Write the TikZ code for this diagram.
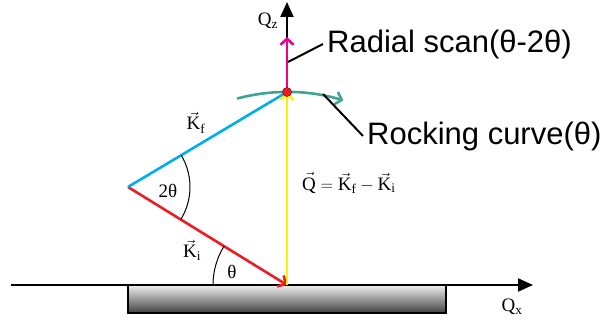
\documentclass[tikz,border=0pt]{standalone}
\usepackage{amsmath}
\usepackage{fontspec}
\setmainfont{Liberation Serif}
\newfontfamily\arialf{Liberation Sans}
\usetikzlibrary{arrows.meta,calc}
\definecolor{kic}{HTML}{ED1C24}
\definecolor{kfc}{HTML}{00AEEF}
\definecolor{qc}{HTML}{FFF200}
\definecolor{radc}{HTML}{EC008C}
\definecolor{rocc}{HTML}{3FA293}
\tikzset{
  wv/.style={line width=2.6pt,-{Straight Barb[length=6pt,width=13pt]}},
  ax/.style={line width=2pt,-{Triangle[length=15pt,width=13pt]}},
  ptr/.style={line width=2pt},
  ang/.style={line width=1pt},
  lbl/.style={font=\fontsize{19}{22}\selectfont,inner sep=1pt},
  bigl/.style={font=\arialf\fontsize{31}{36}\selectfont,inner sep=4pt,anchor=west},
  sample/.style={draw,line width=2.5pt,top color=black!6,bottom color=black!75,minimum width=318pt,minimum height=28pt,inner sep=0pt},
  dot/.style={circle,fill=kic,draw=kic!60!black,line width=0.6pt,minimum size=9pt,inner sep=0pt}
}
\begin{document}
\begin{tikzpicture}[x=1pt,y=1pt]
\useasboundingbox (0,0) rectangle (611,322);
\coordinate (O) at (287,37);
\coordinate (S) at (128,135);
\coordinate (P) at (287,230);
\coordinate (xs) at (11,37);
\coordinate (xe) at (533,37);
\coordinate (zt) at (287,320);
\coordinate (zr) at (287,285);
\coordinate (rs) at (288,260);
\coordinate (rc) at (323,228);
\node[sample] (smp) at (287,23) {};
\draw[ax] (xs) -- (xe);
\draw[ax] (O) -- (zt);
\draw[wv,kic] (S) -- (O);
\draw[line width=2.6pt,kfc] (S) -- (P);
\draw[wv,qc] (O) -- (P);
\draw[wv,radc] (P) -- (zr);
\draw[wv,rocc] ([shift={(105:193)}]O) arc[start angle=105,end angle=73,radius=193];
\node[dot] (pk) at (P) {};
\draw[ang] ([shift={(180:74)}]O) arc[start angle=180,end angle=148.35,radius=74];
\draw[ang] ([shift={(30.86:62)}]S) arc[start angle=30.86,end angle=-31.65,radius=62];
\node[bigl] (rad) at (323,278) {Radial scan(θ-2θ)};
\node[bigl] (roc) at (363,186) {Rocking curve(θ)};
\draw[ptr] (rs) -- (rad.west);
\draw[ptr] (rc) -- (roc.west);
\node[lbl] (qz) at (268,301) {Q$_{\text{z}}$};
\node[lbl] (qx) at (512,15) {Q$_{\text{x}}$};
\node[lbl] (kf) at (196,199) {$\vec{\text{K}}_{\text{f}}$};
\node[lbl] (ki) at (192,72) {$\vec{\text{K}}_{\text{i}}$};
\node[lbl] (tt) at (168,131) {2θ};
\node[lbl] (th) at (232,50) {θ};
\node[lbl,anchor=west] (qeq) at (301,139) {$\vec{\text{Q}}=\vec{\text{K}}_{\text{f}}-\vec{\text{K}}_{\text{i}}$};
\end{tikzpicture}
\end{document}
